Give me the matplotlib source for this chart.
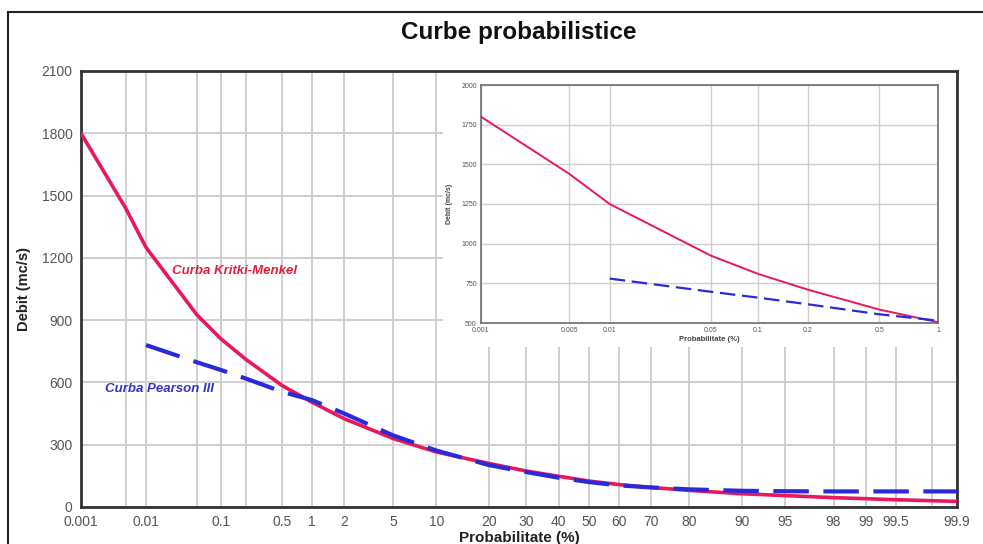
import numpy as np
import matplotlib
matplotlib.use("Agg")
import matplotlib.pyplot as plt
from matplotlib.ticker import FixedLocator, FixedFormatter, NullFormatter
from matplotlib.lines import Line2D
from math import erf, sqrt

plt.rcParams['font.family'] = ['Liberation Sans', 'DejaVu Sans']

# ---- data ----
prob_km = [0.001, 0.005, 0.01, 0.05, 0.1, 0.2, 0.5, 1, 2, 5, 10, 20, 30, 40, 50,
           60, 70, 80, 90, 95, 98, 99, 99.5, 99.9]
debit_km = [1800, 1440, 1250, 925, 810, 710, 585, 505, 425, 330, 265, 210, 173, 148, 125,
            108, 94, 80, 64, 55, 45, 40, 35, 27]

prob_p3 = [0.01, 0.05, 0.1, 0.2, 0.5, 1, 2, 5, 10, 20, 30, 40, 50,
           60, 70, 80, 90, 95, 98, 99, 99.5, 99.9]
debit_p3 = [780, 697, 660, 618, 555, 515, 450, 345, 272, 202, 168, 141, 120,
            104, 94, 85, 78, 76, 75, 75, 75, 75]

main_xticks = [0.001, 0.01, 0.1, 0.5, 1, 2, 5, 10, 20, 30, 40, 50, 60, 70, 80,
               90, 95, 98, 99, 99.5, 99.9]
main_xticklabels = ['0.001', '0.01', '0.1', '0.5', '1', '2', '5', '10', '20', '30', '40',
                    '50', '60', '70', '80', '90', '95', '98', '99', '99.5', '99.9']
main_xminor = [0.005, 0.05, 0.2, 99.8]
main_yticks = [0, 300, 600, 900, 1200, 1500, 1800, 2100]

inset_xticks = [0.001, 0.005, 0.01, 0.05, 0.1, 0.2, 0.5, 1]
inset_xticklabels = ['0.001', '0.005', '0.01', '0.05', '0.1', '0.2', '0.5', '1']
inset_yticks = [500, 750, 1000, 1250, 1500, 1750, 2000]

RED = '#e8185a'
RED_TXT = '#e3203c'
BLUE = '#2a2ad8'
BLUE_TXT = '#3434c8'
GRID = '#cfcfcf'
TICK = '#555555'


# ---- normal probability (probit) scale, x given in percent ----
_a = [-3.969683028665376e+01, 2.209460984245205e+02, -2.759285104469687e+02,
      1.383577518672690e+02, -3.066479806614716e+01, 2.506628277459239e+00]
_b = [-5.447609879822406e+01, 1.615858368580409e+02, -1.556989798598866e+02,
      6.680131188771972e+01, -1.328068155288572e+01]
_c = [-7.784894002430293e-03, -3.223964580411365e-01, -2.400758277161838e+00,
      -2.549732539343734e+00, 4.374664141464968e+00, 2.938163982698783e+00]
_d = [7.784695709041462e-03, 3.224671290700398e-01, 2.445134137142996e+00,
      3.754408661907416e+00]


def _ppf(p):
    p = np.clip(np.asarray(p, dtype=float), 1e-12, 1 - 1e-12)
    plow = 0.02425
    with np.errstate(all='ignore'):
        q = np.sqrt(-2 * np.log(p))
        lo = (((((_c[0]*q + _c[1])*q + _c[2])*q + _c[3])*q + _c[4])*q + _c[5]) / \
             ((((_d[0]*q + _d[1])*q + _d[2])*q + _d[3])*q + 1)
        qh = np.sqrt(-2 * np.log(1 - p))
        hi = -(((((_c[0]*qh + _c[1])*qh + _c[2])*qh + _c[3])*qh + _c[4])*qh + _c[5]) / \
             ((((_d[0]*qh + _d[1])*qh + _d[2])*qh + _d[3])*qh + 1)
        qm = p - 0.5
        r = qm * qm
        mid = (((((_a[0]*r + _a[1])*r + _a[2])*r + _a[3])*r + _a[4])*r + _a[5]) * qm / \
              (((((_b[0]*r + _b[1])*r + _b[2])*r + _b[3])*r + _b[4])*r + 1)
    return np.where(p < plow, lo, np.where(p > 1 - plow, hi, mid))


_cdf = np.vectorize(lambda z: 0.5 * (1 + erf(z / sqrt(2))))


def prob_forward(x):
    return _ppf(np.asarray(x, dtype=float) / 100.0)


def prob_inverse(z):
    return 100.0 * _cdf(np.asarray(z, dtype=float))


fig = plt.figure(figsize=(9.83, 5.44), dpi=100)
fig.patch.set_facecolor('white')

# outer frame
fig.add_artist(Line2D([8/983, 8/983], [0, 1 - 12/544], transform=fig.transFigure,
                      color='#222222', lw=1.5))
fig.add_artist(Line2D([8/983, 1], [1 - 12/544, 1 - 12/544], transform=fig.transFigure,
                      color='#222222', lw=1.5))

fig.text(0.528, 1 - 32/544, 'Curbe probabilistice', ha='center', va='center',
         fontsize=17.5, fontweight='bold', color='#111111')

# ---- main chart ----
ax = fig.add_axes([81/983, 37/544, 876/983, 436/544])
ax.set_xscale('function', functions=(prob_forward, prob_inverse))
ax.set_xlim(0.001, 99.9)
ax.set_ylim(0, 2100)

ax.plot(prob_km, debit_km, color=RED, lw=2.6, solid_capstyle='round', zorder=3)
ax.plot(prob_p3, debit_p3, color=BLUE, lw=3, dashes=(8.5, 3.5), zorder=4)

ax.xaxis.set_major_locator(FixedLocator(main_xticks))
ax.xaxis.set_major_formatter(FixedFormatter(main_xticklabels))
ax.xaxis.set_minor_locator(FixedLocator(main_xminor))
ax.xaxis.set_minor_formatter(NullFormatter())
ax.set_yticks(main_yticks)
ax.set_yticklabels([str(v) for v in main_yticks])

ax.grid(True, which='major', color=GRID, lw=1.4)
ax.grid(True, which='minor', axis='x', color=GRID, lw=1.4)
ax.set_axisbelow(True)
ax.tick_params(which='both', length=0, labelsize=10, labelcolor=TICK, pad=6)

for s in ax.spines.values():
    s.set_color('#333333')
    s.set_linewidth(2)

ax.set_xlabel('Probabilitate (%)', fontsize=11, fontweight='bold', color='#222222', labelpad=1)
ax.set_ylabel('Debit (mc/s)', fontsize=10.5, fontweight='bold', color='#222222', labelpad=8)

ax.text(0.104, 0.541, 'Curba Kritki-Menkel', transform=ax.transAxes, color=RED_TXT,
        fontsize=9.5, fontweight='bold', fontstyle='italic', va='center', ha='left')
ax.text(0.027, 0.271, 'Curba Pearson III', transform=ax.transAxes, color=BLUE_TXT,
        fontsize=9.5, fontweight='bold', fontstyle='italic', va='center', ha='left')

# ---- inset (zoom on low probabilities) ----
# white panel sitting inside the main frame, leaving the main spines visible
box = fig.add_axes([443/983, 197/544, 512.5/983, 274/544], zorder=5)
box.set_facecolor('white')
box.set_xticks([])
box.set_yticks([])
for s in box.spines.values():
    s.set_visible(False)

ins = fig.add_axes([481/983, 221/544, 457/983, 238/544], zorder=6)
ins.set_xscale('function', functions=(prob_forward, prob_inverse))
ins.set_xlim(0.001, 1)
ins.set_ylim(500, 2000)
ins.plot(prob_km, debit_km, color=RED, lw=1.4, zorder=3, clip_on=True)
ins.plot(prob_p3, debit_p3, color=BLUE, lw=1.6, dashes=(7, 3), zorder=4, clip_on=True)
ins.xaxis.set_major_locator(FixedLocator(inset_xticks))
ins.xaxis.set_major_formatter(FixedFormatter(inset_xticklabels))
ins.xaxis.set_minor_locator(FixedLocator([]))
ins.set_yticks(inset_yticks)
ins.set_yticklabels([str(v) for v in inset_yticks])
ins.grid(True, color=GRID, lw=1.0)
ins.set_axisbelow(True)
ins.tick_params(length=0, labelsize=5, labelcolor=TICK, pad=3)
for s in ins.spines.values():
    s.set_color('#777777')
    s.set_linewidth(1.3)
ins.set_xlabel('Probabilitate (%)', fontsize=5.5, fontweight='bold', color='#444444', labelpad=1)
ins.set_ylabel('Debit (mc/s)', fontsize=5, fontweight='bold', color='#444444', labelpad=6)

fig.savefig('out.png', dpi=100, facecolor='white')
